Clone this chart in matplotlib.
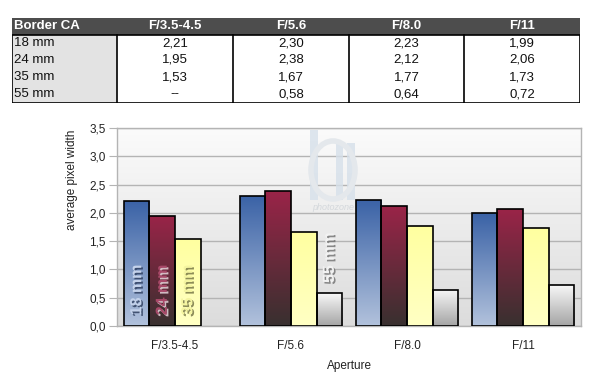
import numpy as np
import matplotlib
matplotlib.use("Agg")
import matplotlib.pyplot as plt
from matplotlib.patches import Rectangle, Ellipse
from matplotlib.colors import LinearSegmentedColormap
import matplotlib.patheffects as pe

plt.rcParams['font.family'] = ['Liberation Sans', 'DejaVu Sans']

categories = ["F/3.5-4.5", "F/5.6", "F/8.0", "F/11"]
series_names = ["18 mm", "24 mm", "35 mm", "55 mm"]
v18 = [2.21, 2.30, 2.23, 1.99]
v24 = [1.95, 2.38, 2.12, 2.06]
v35 = [1.53, 1.67, 1.77, 1.73]
v55 = [np.nan, 0.58, 0.64, 0.72]
table_text = [
    ["2,21", "2,30", "2,23", "1,99"],
    ["1,95", "2,38", "2,12", "2,06"],
    ["1,53", "1,67", "1,77", "1,73"],
    ["--", "0,58", "0,64", "0,72"],
]
yticks = [0, 0.5, 1.0, 1.5, 2.0, 2.5, 3.0, 3.5]
ytick_labels = ["0,0", "0,5", "1,0", "1,5", "2,0", "2,5", "3,0", "3,5"]

W, H = 607, 388
fig = plt.figure(figsize=(W / 100, H / 100), dpi=100)
fig.patch.set_facecolor("white")

# ---------------- table ----------------
tx0, tx1, ty0, ty1 = 12, 580, 18, 103
tax = fig.add_axes([tx0 / W, 1 - ty1 / H, (tx1 - tx0) / W, (ty1 - ty0) / H])
tax.set_xlim(tx0, tx1)
tax.set_ylim(ty1, ty0)
tax.axis("off")
col_edges = [12, 117, 233, 349, 464, 580]
row_edges = [18, 34.5, 51.5, 68.5, 85.5, 103]
# header
tax.add_patch(Rectangle((tx0, row_edges[0]), tx1 - tx0, row_edges[1] - row_edges[0],
                        facecolor="#4d4d4d", edgecolor="none"))
tax.add_patch(Rectangle((tx0, row_edges[1]), col_edges[1] - tx0, ty1 - row_edges[1],
                        facecolor="#e3e3e3", edgecolor="none"))
tax.add_patch(Rectangle((tx0, row_edges[1]), tx1 - tx0, ty1 - row_edges[1],
                        facecolor="none", edgecolor="black", lw=1.2))
for xe in col_edges[1:-1]:
    tax.plot([xe, xe], [row_edges[1], ty1], color="black", lw=1.2)
ymid = (row_edges[0] + row_edges[1]) / 2
tax.text(14, ymid, "Border CA", color="white", fontweight="bold", fontsize=9.5,
         ha="left", va="center")
for i, c in enumerate(categories):
    cx = (col_edges[i + 1] + col_edges[i + 2]) / 2
    tax.text(cx, ymid, c, color="white", fontweight="bold", fontsize=9.5,
             ha="center", va="center")
for r in range(4):
    ym = (row_edges[r + 1] + row_edges[r + 2]) / 2
    tax.text(14, ym, series_names[r], color="#111111", fontsize=9.5, ha="left", va="center")
    for i in range(4):
        cx = (col_edges[i + 1] + col_edges[i + 2]) / 2
        tax.text(cx, ym, table_text[r][i], color="#111111", fontsize=9.5,
                 ha="center", va="center")

# ---------------- chart ----------------
ax0, ax1, ay0, ay1 = 117, 581, 128, 326
ax = fig.add_axes([ax0 / W, 1 - ay1 / H, (ax1 - ax0) / W, (ay1 - ay0) / H])
ax.set_xlim(-0.5, 3.5)
ax.set_ylim(0, 3.5)

# background gradient
bg = LinearSegmentedColormap.from_list("bg", ["#dcdcdc", "#fbfbfb"])
grad = np.linspace(0, 1, 256).reshape(-1, 1)
ax.imshow(grad, cmap=bg, extent=[-0.5, 3.5, 0, 3.5], origin="lower",
          aspect="auto", zorder=0)

# watermark
def px2d(px, py):
    return (px - ax0) / 116.0 - 0.5, (ay1 - py) / ((ay1 - ay0) / 3.5)

wm = "#d6e0ea"
for (x0p, y0p, x1p, y1p) in [(310, 130, 318, 200), (336, 143, 343, 200), (347, 143, 355, 200)]:
    xa, ya = px2d(x0p, y1p)
    xb, yb = px2d(x1p, y0p)
    ax.add_patch(Rectangle((xa, ya), xb - xa, yb - ya, facecolor=wm, edgecolor="none",
                           alpha=0.8, zorder=1))
ec, eyc = px2d(333, 170)
ax.add_patch(Ellipse((ec, eyc), 44 / 116.0, 58 / ((ay1 - ay0) / 3.5), facecolor="none",
                     edgecolor="#e4e8ec", lw=4, zorder=1.1))
tx, ty = px2d(333, 208)
ax.text(tx, ty, "photozone", fontsize=6.5, style="italic", color="#d4d8dc",
        ha="center", va="center", zorder=1.2)

ax.set_yticks(yticks)
ax.set_yticklabels(ytick_labels)
ax.grid(axis="y", color="#b4b4b4", lw=1, zorder=1.5)
ax.set_axisbelow(True)
for s in ["top", "right", "left", "bottom"]:
    ax.spines[s].set_color("#b4b4b4")
    ax.spines[s].set_linewidth(1)
ax.tick_params(axis="y", length=6, color="#b4b4b4", labelsize=8.5, labelcolor="#222222", pad=2)
ax.tick_params(axis="x", length=0, labelsize=8.5, labelcolor="#222222", pad=10)
ax.set_xticks(range(len(categories)))
ax.set_xticklabels(categories)

series = [v18, v24, v35, v55]
grads = [("#3a62a6", "#b2c2dc"), ("#9a2448", "#38302f"),
         ("#ffffa0", "#ffffc4"), ("#f8f8f8", "#a4a4a4")]
offsets = [-0.33, -0.11, 0.11, 0.33]
width = 0.22
x = np.arange(len(categories))
for si, vals in enumerate(series):
    cm = LinearSegmentedColormap.from_list("g%d" % si, [grads[si][1], grads[si][0]])
    bars = ax.bar(x + offsets[si], vals, width=width, facecolor="none",
                  edgecolor="black", lw=1.2, zorder=4)
    for b, v in zip(bars, vals):
        if np.isnan(v):
            continue
        bx, bw = b.get_x(), b.get_width()
        im = ax.imshow(grad, cmap=cm, extent=[bx, bx + bw, 0, v], origin="lower",
                       aspect="auto", zorder=3)
        im.set_clip_path(b)

ax.set_xlim(-0.5, 3.5)
ax.set_ylim(0, 3.5)

# in-bar series labels
lab_style = [
    ("#c4d2ea", "#2a3a5a"),
    ("#a84868", "#f0e0e6"),
    ("#f4f4a0", "#707040"),
    ("#f2f2f2", "#707070"),
]
lab_pos = [(0 + offsets[0], 0.19), (0 + offsets[1], 0.19), (0 + offsets[2], 0.19),
           (1 + offsets[3], 0.76)]
for si in range(4):
    fc, sc = lab_style[si]
    t = ax.text(lab_pos[si][0], lab_pos[si][1], series_names[si], rotation=90,
                ha="center", va="bottom", fontsize=11.5, fontweight="bold",
                color=fc, zorder=6)
    t.set_path_effects([pe.withSimplePatchShadow(offset=(1.2, -1.2), shadow_rgbFace=sc,
                                                 alpha=0.8)])

ax.set_xlabel("Aperture", fontsize=8.5, color="#222222", labelpad=6)
fig.text(72 / W, 1 - 180 / H, "average pixel width", rotation=90, fontsize=8.5,
         color="#222222", ha="center", va="center")

fig.savefig("out.png", dpi=100)
